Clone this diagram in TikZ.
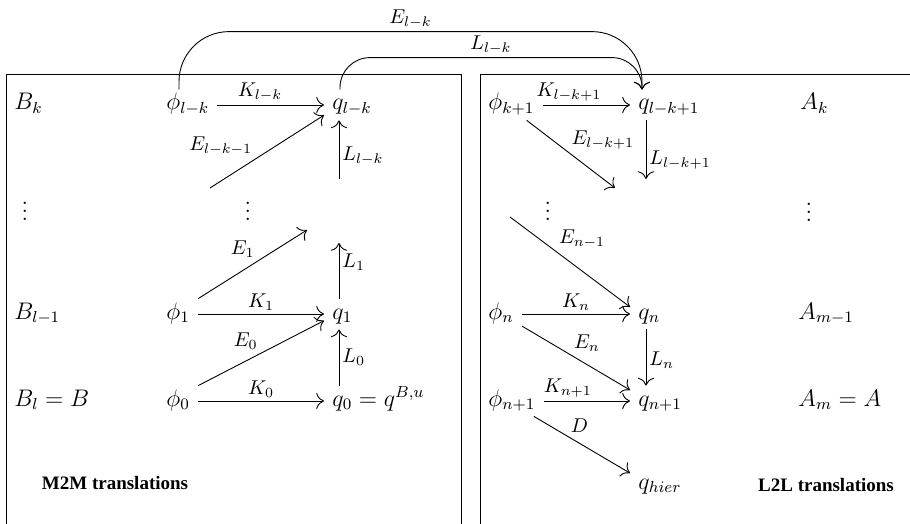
\documentclass[tikz,border=0pt]{standalone}
\usepackage{amsmath}
\usepackage{amssymb}
\usepackage{fontspec}
\usepackage{tikz}
\usetikzlibrary{arrows.meta, positioning, calc}
\newfontfamily\capfont{Liberation Serif}
\tikzset{
	obj/.style      ={anchor=west, inner xsep=4pt, inner ysep=2pt, text height=8pt, text depth=3pt, font=\large},
	dots/.style     ={inner sep=0pt, font=\large},
	map/.style      ={-{To[scale=1.5]}, line width=0.45pt},
	lbl/.style      ={font=\normalsize, inner sep=1.5pt},
	frame/.style    ={line width=0.45pt},
	caption/.style  ={font=\capfont\bfseries\fontsize{9.5}{11}\selectfont},
}
\begin{document}
\begin{tikzpicture}[x=0.5pt, y=-0.5pt, font=\normalsize]
	\useasboundingbox (0,0) rectangle (910,524);
	% the two boxes
	\draw[frame] (6,540) -- (6,74) -- (461,74) -- (461,540);
	\draw[frame] (480,540) -- (480,74) -- (920,74);
	% M2M side
	\node[obj] (Bk)  at (6,105) {$B_k$};
	\node[dots] (Bvd) at (25,205) {$\vdots$};
	\node[obj] (Blm) at (6,314) {$B_{l-1}$};
	\node[obj] (Bl)  at (6,401) {$B_l = B$};
	\node[obj] (phik) at (158,105) {$\phi_{l-k}$};
	\node[dots] (phivd) at (248,205) {$\vdots$};
	\node[obj] (phi1) at (158,314) {$\phi_1$};
	\node[obj] (phi0) at (158,401) {$\phi_0$};
	\node[obj] (qk) at (324,105) {$q_{l-k}$};
	\node[obj] (q1) at (324,314) {$q_1$};
	\node[obj] (q0) at (324,401) {$q_0 = q^{B,u}$};
	\coordinate (ek1) at (210,188);
	\coordinate (lk) at (339,179);
	\coordinate (e1) at (307,230);
	\coordinate (l1) at (339,243);
	\draw[map] (phik) -- node[lbl, above, pos=0.4] {$K_{l-k}$} (qk);
	\draw[map] (ek1) -- node[lbl, above left, pos=0.4] {$E_{l-k-1}$} (qk.200);
	\draw[map] (lk) -- node[lbl, right, pos=0.4] {$L_{l-k}$} ($(qk.south west)+(15,0)$);
	\draw[map] (phi1.north east) -- node[lbl, above left, pos=0.55] {$E_1$} (e1);
	\draw[map] ($(q1.north west)+(15,0)$) -- node[lbl, right, pos=0.65] {$L_1$} (l1);
	\draw[map] (phi1) -- node[lbl, above] {$K_1$} (q1);
	\draw[map] (phi0.north east) -- node[lbl, above left, pos=0.5] {$E_0$} (q1.200);
	\draw[map] ($(q0.north west)+(15,0)$) -- node[lbl, right] {$L_0$} ($(q1.south west)+(15,0)$);
	\draw[map] (phi0) -- node[lbl, above] {$K_0$} (q0);
	% L2L side
	\node[obj] (phikk) at (480,105) {$\phi_{k+1}$};
	\node[obj] (qkk) at (630,105) {$q_{l-k+1}$};
	\node[obj] (Ak) at (792,105) {$A_k$};
	\node[dots] (rvd) at (548,205) {$\vdots$};
	\node[dots] (Avd) at (809,206) {$\vdots$};
	\node[obj] (phin) at (480,314) {$\phi_n$};
	\node[obj] (qn) at (630,314) {$q_n$};
	\node[obj] (Amm) at (790,314) {$A_{m-1}$};
	\node[obj] (phinn) at (480,401) {$\phi_{n+1}$};
	\node[obj] (qnn) at (630,401) {$q_{n+1}$};
	\node[obj] (Am) at (790,401) {$A_m = A$};
	\node[obj] (qh) at (630,484) {$q_{hier}$};
	\coordinate (ekk) at (615,188);
	\coordinate (lkk) at (646,179);
	\coordinate (en1) at (510,217);
	\draw[map] (phikk) -- node[lbl, above, pos=0.3] {$K_{l-k+1}$} (qkk);
	\draw[map] (phikk.-45) -- node[lbl, above right, pos=0.47] {$E_{l-k+1}$} (ekk);
	\draw[map] ($(qkk.south west)+(16,0)$) -- node[lbl, right, pos=0.68] {$L_{l-k+1}$} (lkk);
	\draw[map] (en1) -- node[lbl, above right, pos=0.38] {$E_{n-1}$} (qn.160);
	\draw[map] (phin) -- node[lbl, above] {$K_n$} (qn);
	\draw[map] (phin.-30) -- node[lbl, above right, pos=0.45] {$E_n$} (qnn.160);
	\draw[map] ($(qn.south west)+(16,0)$) -- node[lbl, right, pos=0.54] {$L_n$} ($(qnn.north west)+(16,0)$);
	\draw[map] (phinn) -- node[lbl, above, pos=0.28] {$K_{n+1}$} (qnn);
	\draw[map] (phinn.-35) -- node[lbl, above right, pos=0.35] {$D$} (qh.160);
	% across the boxes
	\draw[map, rounded corners=25pt] ($(phik.north west)+(21,0)$) -- ++(0,-58) -| node[lbl, above, pos=0.25] {$E_{l-k}$} ($(qkk.north west)+(12,0)$);
	\draw[map, rounded corners=15pt] ($(qk.north west)+(16,0)$) -- ++(0,-32) -| node[lbl, above, pos=0.25] {$L_{l-k}$} ($(qkk.north west)+(12,0)$);
	\node[caption] (mtm) at (115,483) {M2M translations};
	\node[caption] (ltl) at (826,485) {L2L translations};
\end{tikzpicture}
\end{document}
